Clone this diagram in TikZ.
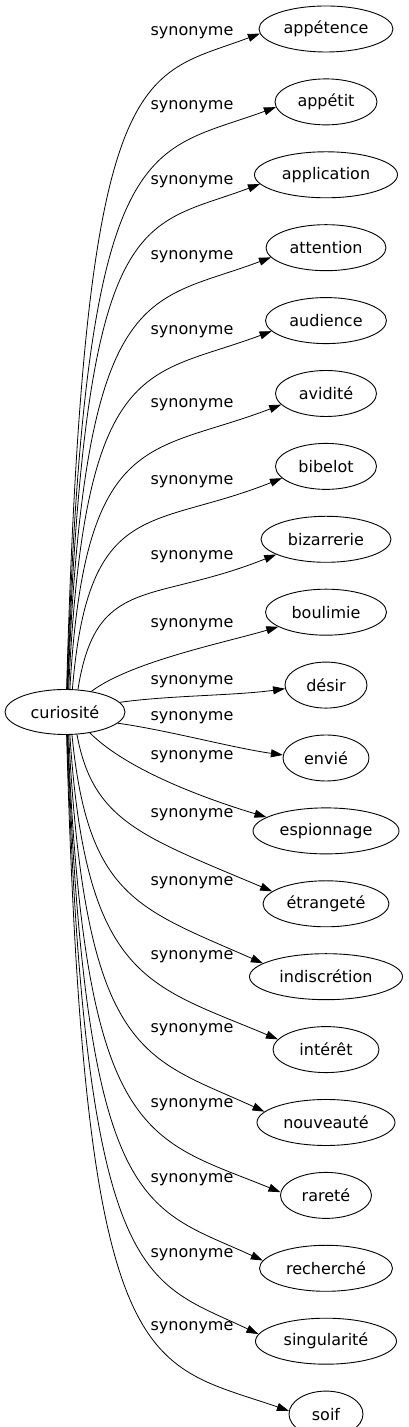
\documentclass[tikz,border=0pt]{standalone}
\usepackage{fontspec}
\setmainfont{DejaVu Sans}
\usepackage{tikz}
\usetikzlibrary{shapes.geometric, arrows.meta, positioning}

\begin{document}
\begin{tikzpicture}[
    x=1pt, y=1pt,
    node distance=26pt,
    every node/.style={font=\fontsize{16}{19}\selectfont},
    root/.style={draw, ellipse, line width=0.9pt, minimum width=120pt, minimum height=45pt, inner sep=1pt},
    term/.style={draw, ellipse, line width=0.9pt, minimum height=46pt, inner sep=1pt},
    rel/.style={inner sep=0pt},
    link/.style={-{Triangle[length=12pt, width=8pt]}, line width=0.8pt}
]
    \useasboundingbox (0,0) rectangle (408,1427);

    \node[root] (curiosite) at (65,715) {curiosité};

    \node[term, minimum width=134pt] (appetence) at (326,1398) {appétence};
    \node[term, minimum width=102pt, below=of appetence] (appetit) {appétit};
    \node[term, minimum width=143pt, below=of appetit] (application) {application};
    \node[term, minimum width=120pt, below=of application] (attention) {attention};
    \node[term, minimum width=121pt, below=of attention] (audience) {audience};
    \node[term, minimum width=101pt, below=of audience] (avidite) {avidité};
    \node[term, minimum width=101pt, below=of avidite] (bibelot) {bibelot};
    \node[term, minimum width=130pt, below=of bibelot] (bizarrerie) {bizarrerie};
    \node[term, minimum width=121pt, below=of bizarrerie] (boulimie) {boulimie};
    \node[term, minimum width=82pt, below=of boulimie] (desir) {désir};
    \node[term, minimum width=86pt, below=of desir] (envie) {envié};
    \node[term, minimum width=146pt, below=of envie] (espionnage) {espionnage};
    \node[term, minimum width=126pt, below=of espionnage] (etrangete) {étrangeté};
    \node[term, minimum width=153pt, below=of etrangete] (indiscretion) {indiscrétion};
    \node[term, minimum width=106pt, below=of indiscretion] (interet) {intérêt};
    \node[term, minimum width=138pt, below=of interet] (nouveaute) {nouveauté};
    \node[term, minimum width=91pt, below=of nouveaute] (rarete) {rareté};
    \node[term, minimum width=133pt, below=of rarete] (recherche) {recherché};
    \node[term, minimum width=141pt, below=of recherche] (singularite) {singularité};
    \node[term, minimum width=74pt, below=of singularite] (soif) {soif};

    % edge labels
    \node[rel] (r1) at (192,1394) {synonyme};
    \node[rel] (r2) at (192,1320) {synonyme};
    \node[rel] (r3) at (192,1245) {synonyme};
    \node[rel] (r4) at (192,1170) {synonyme};
    \node[rel] (r5) at (192,1095) {synonyme};
    \node[rel] (r6) at (192,1022) {synonyme};
    \node[rel] (r7) at (192,945) {synonyme};
    \node[rel] (r8) at (192,870) {synonyme};
    \node[rel] (r9) at (192,802) {synonyme};
    \node[rel] (r10) at (192,745) {synonyme};
    \node[rel] (r11) at (192,709) {synonyme};
    \node[rel] (r12) at (192,670) {synonyme};
    \node[rel] (r13) at (192,612) {synonyme};
    \node[rel] (r14) at (192,544) {synonyme};
    \node[rel] (r15) at (192,470) {synonyme};
    \node[rel] (r16) at (192,397) {synonyme};
    \node[rel] (r17) at (192,322) {synonyme};
    \node[rel] (r18) at (192,247) {synonyme};
    \node[rel] (r19) at (192,172) {synonyme};
    \node[rel] (r20) at (192,99) {synonyme};

    % edges
    \draw[link] (curiosite.86) .. controls +(18,636) and +(-120,-45) .. (appetence.184);
    \draw[link] (curiosite.85) .. controls +(18,564) and +(-130,-48) .. (appetit.186);
    \draw[link] (curiosite.84) .. controls +(18,488) and +(-120,-45) .. (application.188);
    \draw[link] (curiosite.83) .. controls +(17,412) and +(-125,-47) .. (attention.190);
    \draw[link] (curiosite.81) .. controls +(16,337) and +(-125,-47) .. (audience.191);
    \draw[link] (curiosite.78) .. controls +(15,262) and +(-130,-50) .. (avidite.194);
    \draw[link] (curiosite.72) .. controls +(16,193) and +(-130,-52) .. (bibelot.195);
    \draw[link] (curiosite.60) .. controls +(18,115) and +(-125,-50) .. (bizarrerie.197);
    \draw[link] (curiosite.38) .. controls +(40,30) and +(-50,-15) .. (boulimie.197);
    \draw[link] (curiosite.10) .. controls +(50,7) and +(-50,-7) .. (desir.185);
    \draw[link] (curiosite.-12) .. controls +(50,-7) and +(-50,7) .. (envie.176);
    \draw[link] (curiosite.-40) .. controls +(40,-40) and +(-50,15) .. (espionnage.167);
    \draw[link] (curiosite.-62) .. controls +(16,-87) and +(-130,55) .. (etrangete.167);
    \draw[link] (curiosite.-73) .. controls +(16,-163) and +(-125,55) .. (indiscretion.168);
    \draw[link] (curiosite.-78) .. controls +(16,-246) and +(-130,55) .. (interet.168);
    \draw[link] (curiosite.-81) .. controls +(17,-324) and +(-120,55) .. (nouveaute.170);
    \draw[link] (curiosite.-83) .. controls +(17,-408) and +(-135,55) .. (rarete.176);
    \draw[link] (curiosite.-84) .. controls +(18,-481) and +(-120,55) .. (recherche.173);
    \draw[link] (curiosite.-85) .. controls +(18,-556) and +(-115,55) .. (singularite.174);
    \draw[link] (curiosite.-86) .. controls +(18,-648) and +(-145,50) .. (soif.175);
\end{tikzpicture}
\end{document}
